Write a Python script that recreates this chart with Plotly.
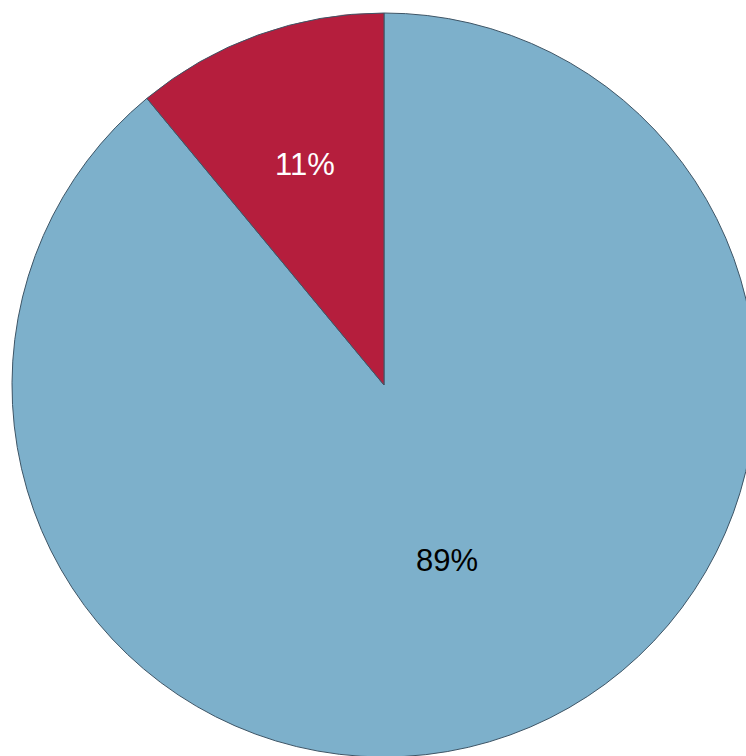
import math
import plotly.graph_objects as go

labels = ["Blue", "Red"]
values = [89, 11]
colors = ["#7DB0CB", "#B51E3D"]
text_colors = ["#000000", "#FFFFFF"]

W, H = 760, 760
cx, cy, r = 384, 385, 372

total = sum(values)
fig = go.Figure(go.Pie(
    labels=labels,
    values=values,
    sort=False,
    direction="clockwise",
    rotation=0,
    marker=dict(colors=colors, line=dict(color="#3E5566", width=1)),
    textinfo="percent",
    texttemplate=["%{percent:.0%}", ""],
    textposition="inside",
    insidetextorientation="horizontal",
    textfont=dict(family="Liberation Sans, Arial", size=31, color=text_colors),
    hoverinfo="label+percent",
    domain=dict(x=[(cx - r) / W, (cx + r) / W], y=[1 - (cy + r) / H, 1 - (cy - r) / H]),
))

# label for the small slice, placed on its bisector
start = values[0] / total * 360.0
mid = math.radians(start + values[1] / total * 360.0 / 2)
rad = 0.63 * r
px = cx + rad * math.sin(mid)
py = cy - rad * math.cos(mid)
fig.add_annotation(
    x=px / W, y=1 - py / H, xref="paper", yref="paper",
    xanchor="center", yanchor="middle",
    text=f"{round(100 * values[1] / total)}%", showarrow=False,
    font=dict(family="Liberation Sans, Arial", size=31, color=text_colors[1]),
)

fig.update_layout(
    width=W, height=H,
    margin=dict(l=0, r=0, t=0, b=0),
    showlegend=False,
    paper_bgcolor="white",
    plot_bgcolor="white",
)
fig.write_html("out.html", post_script="document.body.style.overflow='hidden';document.documentElement.style.overflow='hidden';")
